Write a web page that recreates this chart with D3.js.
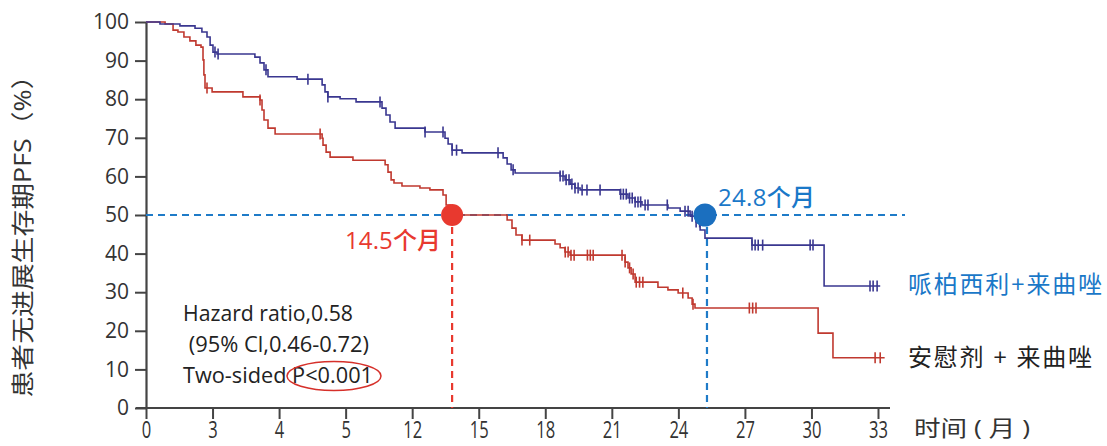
<!DOCTYPE html>
<html><head><meta charset="utf-8">
<script src="https://cdn.jsdelivr.net/npm/d3@7/dist/d3.min.js"></script>
<style>
html,body{margin:0;padding:0;background:#fff;}
text{font-family:"Open Sans","Noto Sans CJK SC",sans-serif;}
</style></head>
<body><svg id="c" width="1107" height="446"></svg>
<script>
// ---- data ----
const xTickValues = [0,3,6,9,12,15,18,21,24,27,30,33];
const xTickLabels = ["0","3","4","5","12","15","18","21","24","27","30","33"];
const yTickValues = [0,10,20,30,40,50,60,70,80,90,100];

// Palbociclib + letrozole (blue) steps: [month, PFS%]
const blueSteps = [[0,100],[0.63,99.5],[1.53,99.0],[2.21,98.4],[2.52,97.4],[2.75,96.1],[2.89,94.0],[3.02,92.2],[3.2,91.7],
 [4.91,90.9],[5.14,89.4],[5.32,87.6],[5.5,85.8],[6.81,85.2],[7.94,83.7],[8.07,81.9],[8.2,80.6],[8.75,80.1],[9.47,79.3],
 [10.64,77.7],[10.82,75.9],[11.0,74.1],[11.23,72.5],[12.58,71.5],[13.48,69.9],[13.62,68.4],[13.8,66.8],[14.25,66.1],
 [16.1,64.8],[16.28,63.2],[16.46,61.7],[16.64,60.9],[18.67,60.1],[18.89,59.1],[19.12,58.0],[19.34,57.0],[19.57,56.5],
 [21.37,55.4],[21.73,54.4],[22.05,53.4],[22.36,52.6],[23.53,51.8],[24.08,51.0],[24.53,49.7],[24.8,48.2],[24.98,46.1],
 [25.2,44.0],[27.32,42.2],[30.57,31.6],[33.1,31.6]];
const blueCensor = [3.11,3.25,5.41,7.3,8.2,10.55,12.58,13.39,13.8,14.0,15.87,16.55,18.67,18.8,18.94,19.07,19.2,19.34,19.48,
 19.66,19.88,20.47,21.4,21.52,21.65,21.8,21.92,22.05,22.18,22.3,22.5,22.63,23.5,24.3,24.44,24.62,24.8,24.96,27.32,27.46,27.6,27.8,
 29.94,30.07,32.64,32.78,32.96];

// Placebo + letrozole (red) steps
const redSteps = [[0,100],[0.86,99.5],[1.22,97.9],[1.44,97.4],[1.71,96.1],[1.98,95.1],[2.25,94.0],[2.48,93.5],[2.57,90.2],
 [2.61,86.3],[2.66,82.9],[2.98,81.9],[4.37,80.6],[5.14,79.8],[5.23,77.2],[5.32,74.6],[5.5,72.5],[5.82,71.0],[7.94,69.9],
 [7.98,68.1],[8.12,66.3],[8.3,65.0],[9.33,64.2],[10.78,63.0],[10.91,61.1],[11.05,59.1],[11.18,58.3],[11.54,57.5],[12.35,57.0],
 [12.8,56.5],[13.39,55.2],[13.53,52.6],[13.71,50.0],[16.28,48.7],[16.5,46.6],[16.68,44.8],[16.95,43.5],[18.44,42.5],
 [18.67,41.5],[18.89,40.4],[19.12,39.6],[21.6,37.8],[21.73,36.3],[21.87,34.7],[22.05,32.6],[23.08,31.3],[23.53,30.6],
 [23.99,29.8],[24.44,28.5],[24.62,26.9],[24.75,25.9],[30.3,19.4],[30.97,13.0],[33.3,13.0]];
const redCensor = [2.75,5.14,7.85,16.95,17.3,18.9,19.03,19.16,19.3,19.9,20.03,20.16,21.46,21.6,21.8,21.96,22.1,22.25,22.4,
 24.2,24.66,27.2,27.35,27.5,32.87,33.1];

const medianTimes = [13.8, 25.2];
const medianLabels = ["14.5个月","24.8个月"];
const legendLabels = ["哌柏西利+来曲唑","安慰剂 + 来曲唑"];
const statsLines = ["Hazard ratio,0.58"," (95% Cl,0.46-0.72)","Two-sided P<0.001"];
const yTitle = "患者无进展生存期PFS（%）";
const xTitle = "时间 ( 月 )";

// ---- drawing ----
const svg = d3.select("#c");
const x = d3.scaleLinear().domain([0,33]).range([146,878]);
const y = d3.scaleLinear().domain([0,100]).range([408,22]);
const BLUE = "#3a3790", RED = "#c0392f", DASHBLUE = "#1f7bc8", DOTRED = "#e8392f", DOTBLUE = "#1b6fbf";

// axes
const xAxis = d3.axisBottom(x).tickValues(xTickValues).tickFormat((d,i)=>xTickLabels[i]).tickSize(11).tickSizeOuter(0);
const gx = svg.append("g").attr("transform","translate(0,408)").call(xAxis);
gx.select(".domain").remove();
gx.append("line").attr("x1",136).attr("x2",890).attr("y1",0).attr("y2",0).attr("stroke","#444").attr("stroke-width",2.2);
gx.selectAll(".tick line").attr("stroke","#444").attr("stroke-width",2);
gx.selectAll(".tick text").attr("fill","#333").attr("font-size",23).attr("y",14)
  .attr("font-family","'Noto Sans CJK SC',sans-serif").attr("transform","scale(0.72,1)");

const yAxis = d3.axisLeft(y).tickValues(yTickValues).tickSize(11).tickSizeOuter(0);
const gy = svg.append("g").attr("transform","translate(146,0)").call(yAxis);
gy.select(".domain").attr("stroke","#444").attr("stroke-width",2.2);
gy.selectAll(".tick line").attr("stroke","#444").attr("stroke-width",2);
gy.selectAll(".tick text").attr("fill","#333").attr("font-size",21).attr("x",-17)
  .attr("font-family","'Open Sans',sans-serif");

// titles
svg.append("text").attr("transform","translate(31,230) rotate(-90)").attr("text-anchor","middle")
  .attr("font-size",23).attr("fill","#333").attr("font-family","'Noto Sans CJK SC',sans-serif")
  .attr("textLength",335).attr("lengthAdjust","spacingAndGlyphs").text(yTitle);
svg.append("text").attr("x",914).attr("y",436).attr("font-size",22).attr("fill","#333")
  .attr("font-family","'Noto Sans CJK SC',sans-serif").attr("textLength",116).attr("lengthAdjust","spacingAndGlyphs")
  .style("white-space","pre").text(xTitle);

// median reference lines
svg.append("line").attr("x1",x(0)).attr("x2",905).attr("y1",y(50)).attr("y2",y(50))
  .attr("stroke",DASHBLUE).attr("stroke-width",2.2).attr("stroke-dasharray","7,5");
svg.append("line").attr("x1",x(medianTimes[0])).attr("x2",x(medianTimes[0])).attr("y1",y(50)).attr("y2",y(0))
  .attr("stroke",DOTRED).attr("stroke-width",2.2).attr("stroke-dasharray","7,5");
svg.append("line").attr("x1",x(medianTimes[1])+2).attr("x2",x(medianTimes[1])+2).attr("y1",y(50)).attr("y2",y(0))
  .attr("stroke",DASHBLUE).attr("stroke-width",2.2).attr("stroke-dasharray","7,5");

// curves
const line = d3.line().x(d=>x(d[0])).y(d=>y(d[1])).curve(d3.curveStepAfter);
function sAt(steps,t){let s=steps[0][1];for(const p of steps){if(p[0]<=t)s=p[1];}return s;}
function drawCurve(steps,censor,color){
  svg.append("path").datum(steps).attr("d",line).attr("fill","none").attr("stroke",color).attr("stroke-width",1.6);
  svg.append("g").selectAll("line").data(censor).join("line")
    .attr("x1",d=>x(d)).attr("x2",d=>x(d)).attr("y1",d=>y(sAt(steps,d))-5.5).attr("y2",d=>y(sAt(steps,d))+5.5)
    .attr("stroke",color).attr("stroke-width",1.6);
}
drawCurve(redSteps,redCensor,RED);
drawCurve(blueSteps,blueCensor,BLUE);

// median dots
svg.append("circle").attr("cx",x(medianTimes[0])).attr("cy",y(50)).attr("r",11).attr("fill",DOTRED);
svg.append("circle").attr("cx",x(medianTimes[1])).attr("cy",y(50)).attr("r",11.5).attr("fill",DOTBLUE);
svg.append("text").attr("x",345).attr("y",249).attr("font-size",24).attr("fill",DOTRED)
  .attr("font-family","'Open Sans','Noto Sans CJK SC',sans-serif").attr("font-weight",500)
  .attr("textLength",96).text(medianLabels[0]);
svg.append("text").attr("x",718).attr("y",206).attr("font-size",24).attr("fill","#1a78c8")
  .attr("font-family","'Open Sans','Noto Sans CJK SC',sans-serif").attr("font-weight",500)
  .attr("textLength",97).text(medianLabels[1]);

// legend
svg.append("text").attr("x",908).attr("y",293).attr("font-size",24).attr("fill","#1a78c8")
  .attr("font-family","'Noto Sans CJK SC',sans-serif").attr("textLength",194).text(legendLabels[0]);
svg.append("text").attr("x",908).attr("y",366).attr("font-size",24).attr("fill","#222")
  .attr("font-family","'Noto Sans CJK SC',sans-serif").attr("textLength",184).text(legendLabels[1]);

// stats
const statsW = [170, 186, 190];
statsLines.forEach((s,i)=>{
  svg.append("text").attr("x",183).attr("y",321+i*31).attr("font-size",21).attr("fill","#222")
    .attr("textLength",statsW[i]).attr("lengthAdjust","spacingAndGlyphs")
    .style("white-space","pre").text(s);
});
svg.append("ellipse").attr("cx",334).attr("cy",376).attr("rx",47).attr("ry",14.5)
  .attr("fill","none").attr("stroke","#d6302a").attr("stroke-width",1.5);
</script></body></html>
